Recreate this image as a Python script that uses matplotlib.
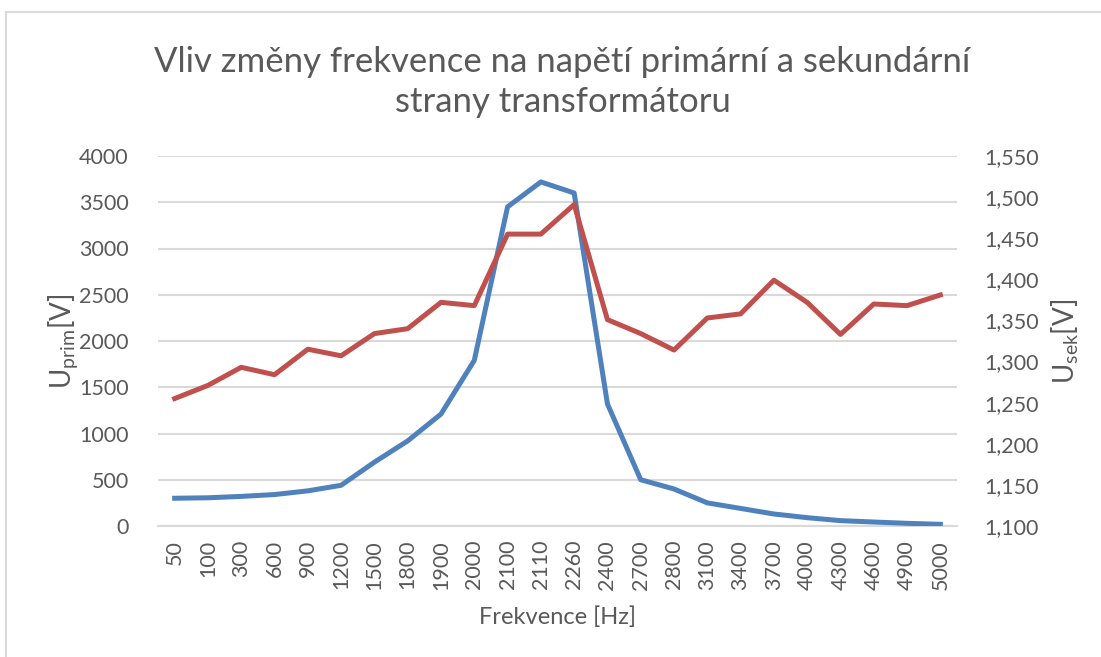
import numpy as np
import matplotlib as mpl
import matplotlib.pyplot as plt
from matplotlib.ticker import FuncFormatter

mpl.rcParams['font.family'] = ['Lato', 'DejaVu Sans']
mpl.rcParams['mathtext.fontset'] = 'custom'
mpl.rcParams['mathtext.rm'] = 'Lato'
mpl.rcParams['mathtext.default'] = 'rm'

#
# Measured data
#
freq = ['50', '100', '300', '600', '900', '1200', '1500', '1800', '1900', '2000',
        '2100', '2110', '2260', '2400', '2700', '2800', '3100', '3400', '3700',
        '4000', '4300', '4600', '4900', '5000']
u_prim = [300, 305, 320, 340, 380, 440, 690, 920, 1210, 1790,
          3450, 3720, 3600, 1320, 500, 400, 250, 190, 130,
          90, 58, 43, 29, 18]
u_sek = [1.255, 1.271, 1.293, 1.284, 1.315, 1.307, 1.334, 1.340, 1.372, 1.368,
         1.455, 1.455, 1.491, 1.351, 1.334, 1.314, 1.353, 1.358, 1.399,
         1.372, 1.333, 1.370, 1.368, 1.381]

text_col = '#595959'
grid_col = '#D9D9D9'

fig = plt.figure(figsize=(11.01, 6.57), dpi=100)
ax = fig.add_axes([158 / 1101, 131 / 657, 799 / 1101, 370 / 657])
ax2 = ax.twinx()

x = np.arange(len(freq))
ax.plot(x, u_prim, color='#4F81BD', lw=3.6, solid_joinstyle='round', zorder=3)
ax2.plot(x, u_sek, color='#C0504D', lw=3.6, solid_joinstyle='round', zorder=3)

ax.set_xlim(-0.5, len(freq) - 0.5)
ax.set_ylim(0, 4000)
ax.set_yticks(np.arange(0, 4001, 500))
ax2.set_ylim(1.1, 1.55)
ax2.set_yticks(np.linspace(1.1, 1.55, 10))
ax2.yaxis.set_major_formatter(FuncFormatter(lambda v, p: f'{v:.3f}'.replace('.', ',')))

ax.set_xticks(x)
ax.set_xticklabels(freq, rotation=90)

ax.grid(axis='y', color=grid_col, lw=1.5)
ax.set_axisbelow(True)
for a in (ax, ax2):
    for s in a.spines.values():
        s.set_visible(False)
    a.tick_params(length=0, colors=text_col, labelsize=15.5)
ax.spines['bottom'].set_visible(True)
ax.spines['bottom'].set_color(grid_col)
ax.spines['bottom'].set_linewidth(1.5)
ax.tick_params(axis='y', pad=21)
ax.tick_params(axis='x', pad=10)
ax2.tick_params(axis='y', pad=20)

ax.set_xlabel('Frekvence [Hz]', fontsize=17, color=text_col, labelpad=12)
ax.set_ylabel(r'U$_{prim}$[V]', fontsize=20, color=text_col)
ax2.set_ylabel(r'U$_{sek}$[V]', fontsize=20, color=text_col)
ax.yaxis.set_label_coords(-0.097, 0.5)
ax2.yaxis.set_label_coords(1.116, 0.5)

fig.text(0.511, 0.875, 'Vliv změny frekvence na napětí primární a sekundární\nstrany transformátoru',
         ha='center', va='center', fontsize=25, color=text_col, linespacing=1.3)

# chart frame (top and left edges visible)
fig.add_artist(plt.Line2D([6 / 1101, 6 / 1101], [0, 645 / 657], transform=fig.transFigure,
                          color=grid_col, lw=1.5))
fig.add_artist(plt.Line2D([6 / 1101, 1], [645 / 657, 645 / 657], transform=fig.transFigure,
                          color=grid_col, lw=1.5))

fig.savefig('out.png', dpi=100)
